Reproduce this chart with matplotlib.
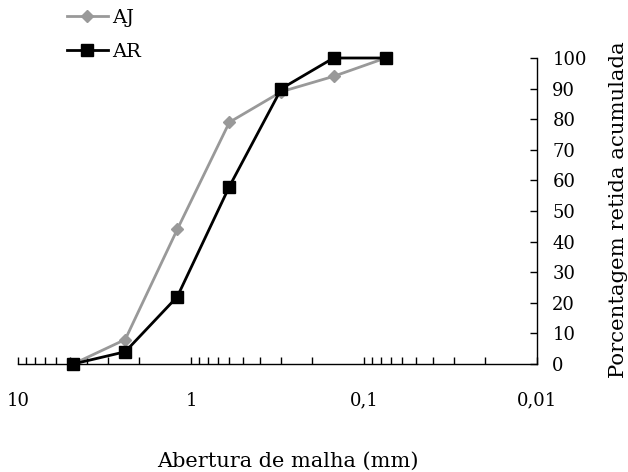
import matplotlib

matplotlib.use("Agg")
import matplotlib.pyplot as plt
from matplotlib.ticker import FixedLocator, FixedFormatter, LogLocator, NullFormatter

# sieve openings (mm) and cumulative retained (%)
aberturas = [4.8, 2.4, 1.2, 0.6, 0.3, 0.15, 0.075]
aj = [0, 8, 44, 79, 89, 94, 100]
ar = [0, 4, 22, 58, 90, 100, 100]

x_ticks = [10, 1, 0.1, 0.01]
x_labels = ["10", "1", "0,1", "0,01"]
y_ticks = list(range(0, 101, 10))

plt.rcParams["font.family"] = "DejaVu Serif"
plt.rcParams["font.size"] = 13

W, H = 628, 472
fig = plt.figure(figsize=(W / 100, H / 100), dpi=100)
ax = fig.add_axes([18 / W, (H - 364) / H, 519 / W, 306 / H])

ax.plot(aberturas, aj, color="#999999", linewidth=2, marker="D", markersize=6,
        label="AJ", clip_on=False, zorder=3)
ax.plot(aberturas, ar, color="black", linewidth=2, marker="s", markersize=9,
        label="AR", clip_on=False, zorder=4)

ax.set_xscale("log")
ax.set_xlim(10, 0.01)
ax.set_ylim(0, 100)

ax.xaxis.set_major_locator(FixedLocator(x_ticks))
ax.xaxis.set_major_formatter(FixedFormatter(x_labels))
ax.xaxis.set_minor_locator(LogLocator(base=10, subs=range(2, 10)))
ax.xaxis.set_minor_formatter(NullFormatter())
ax.tick_params(axis="x", which="both", direction="in", length=5, width=1, pad=20)

ax.yaxis.tick_right()
ax.set_yticks(y_ticks)
ax.tick_params(axis="y", direction="in", length=5, width=1, pad=11)

for side in ["top", "left"]:
    ax.spines[side].set_visible(False)
for side in ["bottom", "right"]:
    ax.spines[side].set_linewidth(1)

ax.set_xlabel("Abertura de malha (mm)", fontsize=15, va="baseline")
ax.xaxis.set_label_coords((288 - 18) / 519, -(467 - 364) / 306)
ax.yaxis.set_label_position("right")
ax.set_ylabel("Porcentagem retida acumulada", fontsize=15.3, rotation=90, va="center")
ax.yaxis.set_label_coords((618 - 18) / 519, (364 - 210) / 306)

fig.legend(loc="upper left", bbox_to_anchor=(67 / W, 1 - 9 / H), frameon=False,
           borderpad=0, borderaxespad=0, handlelength=2.1, handletextpad=0.2,
           labelspacing=0.8, fontsize=14)

fig.savefig("out.png", dpi=100)
